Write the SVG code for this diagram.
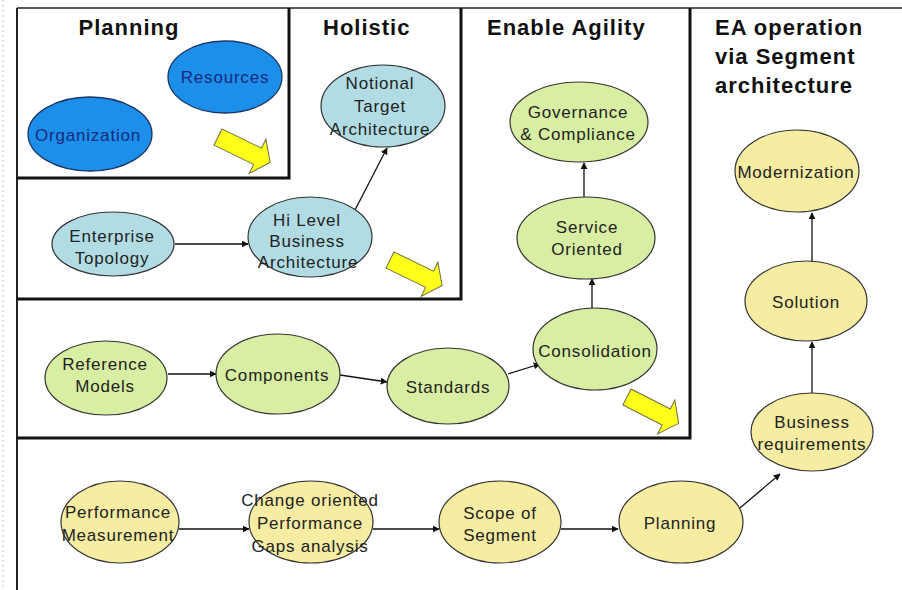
<svg xmlns="http://www.w3.org/2000/svg" width="902" height="590" viewBox="0 0 902 590">
<defs>
<style>
.t{font-family:"Liberation Sans",Arial,sans-serif;font-size:17px;letter-spacing:0.8px;fill:#222;text-anchor:middle}
.tb{fill:#1a2a7a}
.h{font-family:"Liberation Sans",Arial,sans-serif;font-size:22px;font-weight:bold;letter-spacing:1px;fill:#111}
.blue{fill:#1c8fea;stroke:#1b3566;stroke-width:1.3}
.lb{fill:#b1dce4;stroke:#333;stroke-width:1.2}
.gr{fill:#d8efa3;stroke:#333;stroke-width:1.2}
.ye{fill:#f6eca2;stroke:#333;stroke-width:1.2}
.c{stroke:#111;stroke-width:1.3;fill:none;marker-end:url(#ah)}
.frame{stroke:#111;stroke-width:3;fill:none}
.ya{fill:#ffff1a;stroke:#6d6d4a;stroke-width:1}
</style>
<marker id="ah" viewBox="0 0 10 10" refX="9" refY="5" markerWidth="7" markerHeight="7" markerUnits="userSpaceOnUse" orient="auto">
<path d="M0,0 L10,5 L0,10 Z" fill="#111"/>
</marker>
<path id="blk" d="M0,-9 L44,-9 L44,-19 L58,0 L44,19 L44,9 L0,9 Z"/>
</defs>
<rect width="902" height="590" fill="#fff"/>
<line x1="3" y1="0" x2="3" y2="590" stroke="#e4e4e4" stroke-width="2" stroke-dasharray="2 3"/>
<g id="frames">
<line x1="17" y1="8" x2="902" y2="8" stroke="#222" stroke-width="1.5"/>
<line x1="17" y1="8" x2="17" y2="590" stroke="#222" stroke-width="2"/>
<polyline class="frame" points="289,8 289,178 17,178"/>
<polyline class="frame" points="461,8 461,299 17,299"/>
<polyline class="frame" points="690,8 690,438 17,438"/>
</g>
<g id="titles">
<text class="h" x="129" y="35" text-anchor="middle">Planning</text>
<text class="h" x="323" y="35">Holistic</text>
<text class="h" x="487" y="35">Enable Agility</text>
<text class="h" x="715" y="35">EA operation</text>
<text class="h" x="715" y="64">via Segment</text>
<text class="h" x="715" y="93">architecture</text>
</g>
<g id="shift-arrows">
<use href="#blk" class="ya" transform="translate(218,137) rotate(26)"/>
<use href="#blk" class="ya" transform="translate(390,260) rotate(26)"/>
<use href="#blk" class="ya" transform="translate(627,397) rotate(27)"/>
</g>
<g id="connectors">
<line class="c" x1="175" y1="244" x2="248" y2="244"/>
<line class="c" x1="355" y1="210" x2="387" y2="148"/>
<line class="c" x1="168" y1="374" x2="216" y2="374"/>
<line class="c" x1="340" y1="375" x2="387" y2="382"/>
<line class="c" x1="508" y1="374" x2="540" y2="364"/>
<line class="c" x1="592" y1="308" x2="592" y2="279"/>
<line class="c" x1="584" y1="197" x2="584" y2="163"/>
<line class="c" x1="179" y1="529" x2="249" y2="529"/>
<line class="c" x1="373" y1="529" x2="439" y2="529"/>
<line class="c" x1="561" y1="529" x2="618" y2="529"/>
<line class="c" x1="734" y1="513" x2="780" y2="474"/>
<line class="c" x1="812" y1="393" x2="812" y2="342"/>
<line class="c" x1="812" y1="262" x2="812" y2="213"/>
</g>
<g id="resources"><ellipse class="blue" cx="225" cy="77" rx="57" ry="36"/><text class="t tb" x="225" y="83">Resources</text></g>
<g id="organization"><ellipse class="blue" cx="90" cy="134" rx="62" ry="37"/><text class="t tb" x="88" y="141">Organization</text></g>
<g id="notional"><ellipse class="lb" cx="383" cy="106" rx="62" ry="41"/><text class="t" x="380" y="89">Notional</text><text class="t" x="380" y="112">Target</text><text class="t" x="380" y="135">Architecture</text></g>
<g id="enterprise"><ellipse class="lb" cx="113" cy="244" rx="61" ry="32"/><text class="t" x="112" y="242">Enterprise</text><text class="t" x="112" y="264">Topology</text></g>
<g id="hilevel"><ellipse class="lb" cx="310" cy="237" rx="62" ry="40"/><text class="t" x="307" y="226">Hi Level</text><text class="t" x="307" y="247">Business</text><text class="t" x="308" y="268">Architecture</text></g>
<g id="governance"><ellipse class="gr" cx="579" cy="122" rx="69" ry="40"/><text class="t" x="578" y="118">Governance</text><text class="t" x="578" y="140">&amp; Compliance</text></g>
<g id="service"><ellipse class="gr" cx="586" cy="238" rx="69" ry="41"/><text class="t" x="587" y="233">Service</text><text class="t" x="587" y="255">Oriented</text></g>
<g id="consolidation"><ellipse class="gr" cx="595" cy="349" rx="62" ry="41"/><text class="t" x="595" y="357">Consolidation</text></g>
<g id="reference"><ellipse class="gr" cx="106" cy="378" rx="61" ry="37"/><text class="t" x="105" y="370">Reference</text><text class="t" x="105" y="392">Models</text></g>
<g id="components"><ellipse class="gr" cx="278" cy="374" rx="62" ry="40"/><text class="t" x="277" y="381">Components</text></g>
<g id="standards"><ellipse class="gr" cx="448" cy="386" rx="61" ry="38"/><text class="t" x="448" y="393">Standards</text></g>
<g id="modernization"><ellipse class="ye" cx="797" cy="171" rx="62" ry="41"/><text class="t" x="796" y="178">Modernization</text></g>
<g id="solution"><ellipse class="ye" cx="806" cy="301" rx="61" ry="40"/><text class="t" x="806" y="308">Solution</text></g>
<g id="business"><ellipse class="ye" cx="812" cy="432" rx="61" ry="39"/><text class="t" x="812" y="428">Business</text><text class="t" x="812" y="450">requirements</text></g>
<g id="performance"><ellipse class="ye" cx="120" cy="522" rx="59" ry="41"/><text class="t" x="118" y="518">Performance</text><text class="t" x="118" y="541">Measurement</text></g>
<g id="gaps"><ellipse class="ye" cx="311" cy="522" rx="62" ry="41"/><text class="t" x="310" y="506">Change oriented</text><text class="t" x="310" y="529">Performance</text><text class="t" x="310" y="552">Gaps analysis</text></g>
<g id="scope"><ellipse class="ye" cx="500" cy="522" rx="61" ry="41"/><text class="t" x="500" y="519">Scope of</text><text class="t" x="500" y="541">Segment</text></g>
<g id="planning"><ellipse class="ye" cx="681" cy="522" rx="62" ry="41"/><text class="t" x="680" y="529">Planning</text></g>
</svg>
